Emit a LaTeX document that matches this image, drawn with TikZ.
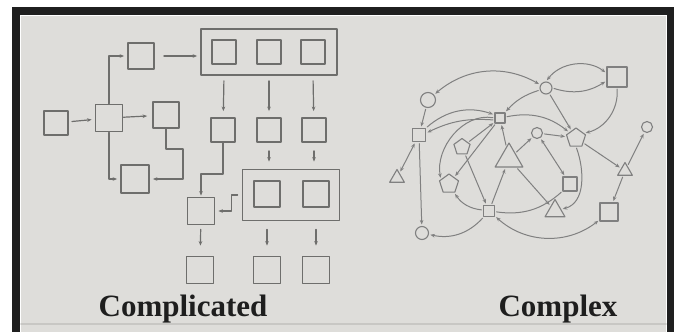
\documentclass[tikz,border=0pt]{standalone}
\usepackage{fontspec}
\setmainfont{Liberation Serif}
\usetikzlibrary{shapes.geometric, arrows.meta}
\definecolor{paper}{HTML}{DEDDDA}
\definecolor{ink}{HTML}{6E6E6C}
\definecolor{inkc}{HTML}{808080}
\definecolor{type}{HTML}{1E1E1E}
\begin{document}
\begin{tikzpicture}[x=1pt, y=-1pt, >={Stealth[length=4.5pt, width=3.6pt]}, line join=round, line cap=round,
  box/.style={draw=ink, line width=1.8pt, inner sep=0pt, minimum size=#1}, box/.default=25pt,
  frame/.style={draw=ink, line width=1.8pt, inner sep=0pt},
  wire/.style={draw=ink, line width=1.2pt, ->, shorten <=3pt, shorten >=3pt},
  cx/.style={draw=inkc, line width=1.1pt, inner sep=0pt},
  ring/.style={cx, circle, minimum size=#1},
  sqr/.style={cx, minimum size=#1},
  pent/.style={cx, regular polygon, regular polygon sides=5, minimum size=#1},
  tri/.style={cx, regular polygon, regular polygon sides=3, minimum size=#1},
  edge/.style={draw=inkc, line width=1pt, ->, shorten <=1.5pt, shorten >=1.5pt},
  lbl/.style={text=type, font=\bfseries\fontsize{31}{31}\selectfont, inner sep=0pt, anchor=base}]
\useasboundingbox (0,0) rectangle (677,332);
\fill[white] (0,0) rectangle (677,332);
\fill[black!88] (12,7) rectangle (674,332);
\fill[white] (20,15) rectangle (667,332);
\fill[paper] (21,16) rectangle (666,332);
\draw[paper!90!black, line width=1.5pt] (21,324) -- (666,324);
\node (a) at (56,123)[box=24pt] {};
\node (b) at (109,118)[box=27pt] {};
\node (c) at (166,115)[box=26pt] {};
\node (d) at (135,179)[box=28pt] {};
\node (e) at (141,56)[box=26pt] {};
\node (big1) at (269,52)[frame, minimum width=136pt, minimum height=46pt] {};
\node (i1) at (224,52)[box=24pt] {}; \node (i2) at (269,52)[box=24pt] {}; \node (i3) at (313,52)[box=24pt] {};
\node (r1) at (223,130)[box=24pt] {}; \node (r2) at (269,130)[box=24pt] {}; \node (r3) at (314,130)[box=24pt] {};
\node (big2) at (291,195)[frame, minimum width=97pt, minimum height=51pt] {};
\node (j1) at (267,194)[box=26pt] {}; \node (j2) at (316,194)[box=26pt] {};
\node (f) at (201,211)[box=27pt] {};
\node (g1) at (200,270)[box=27pt] {}; \node (g2) at (267,270)[box=27pt] {}; \node (g3) at (316,270)[box=27pt] {};
\draw[wire] (a) -- (b);
\draw[wire, shorten <=0pt, shorten >=5pt] (b) -- (c);
\draw[wire, shorten <=0pt] (b.north) |- (e.west);
\draw[wire, shorten <=0pt] (b.south) |- (d.west);
\draw[wire, shorten <=9pt] (e.east) -- (e.east -| big1.west);
\draw[wire, shorten <=0pt] (c.south) |- ++(17,20) |- (d.east);
\foreach \i in {1,2,3} \draw[wire, shorten <=5pt, shorten >=6pt] (i\i |- big1.south) -- (r\i);
\foreach \i in {2,3} \draw[wire, shorten <=8pt, shorten >=7pt] (r\i) -- (r\i |- big2.north);
\draw[wire, shorten <=0pt, shorten >=1pt] (r1.south) |- ++(-22,31) -| (f.north);
\draw[wire, shorten <=0pt] ([xshift=-4pt]big2.west) -- ++(-6,0) |- (f.east);
\draw[wire, shorten <=4pt, shorten >=10pt] (f) -- (g1);
\draw[wire, shorten <=8pt, shorten >=10pt] (j1 |- big2.south) -- (g2);
\draw[wire, shorten <=8pt, shorten >=10pt] (j2 |- big2.south) -- (g3);
\node (sqA) at (617,77)[sqr=20pt] {};
\node (oA) at (546,88)[ring=12pt] {};
\node (oB) at (428,100)[ring=15pt] {};
\node (sB) at (419,135)[sqr=13pt] {};
\node (sC) at (500,118)[sqr=10pt] {};
\node (oC) at (537,133)[ring=11pt] {};
\node (pA) at (576,138)[pent=20pt] {};
\node (oD) at (647,127)[ring=11pt] {};
\node (pB) at (462,147)[pent=17pt] {};
\node (tA) at (509,159)[tri=32pt] {};
\node (tB) at (397,178)[tri=17pt] {};
\node (pC) at (449,184)[pent=20pt] {};
\node (tC) at (625,171)[tri=17pt] {};
\node (sD) at (570,184)[sqr=14pt] {};
\node (sE) at (489,211)[sqr=11pt] {};
\node (tD) at (555,211)[tri=23pt] {};
\node (sF) at (609,212)[sqr=18pt] {};
\node (oE) at (422,233)[ring=13pt] {};
\draw[edge, <->] (oB) to[bend left=35] (oA);
\draw[edge, <->] (oA.north) to[bend left=45] (sqA.160);
\draw[edge] (oA.east) to[bend right=25] (sqA.200);
\draw[edge] (oA) to[bend right=15] (sC);
\draw[edge] (oA) -- (pA);
\draw[edge] (sqA.south) to[bend left=40] (pA.30);
\draw[edge] (oB) -- (sB);
\draw[edge, <->] (sB) -- (tB);
\draw[edge] (sB) -- (oE);
\draw[edge] (sE) to[bend left=30] (oE);
\draw[edge] (sB.45) to[bend left=30] (sC.150);
\draw[edge] (sC.200) to[bend right=15] (sB.15);
\draw[edge] (sC.west) to[out=170, in=100] (pC.150);
\draw[edge] (pB) -- (sC);
\draw[edge] (sC) -- (pC);
\draw[edge] (tA) -- (sC);
\draw[edge] (sC) to[bend left=25] (pA);
\draw[edge] (oC) -- (pA);
\draw[edge] (tA) -- (oC);
\draw[edge, <->] (oC) -- (sD);
\draw[edge] (pB) -- (sE);
\draw[edge] (sE) -- (tA);
\draw[edge] (tA) -- (tD);
\draw[edge] (sE) to[bend left=25] (pC);
\draw[edge, -] (sE) to[bend right=25] (sD);
\draw[edge, <->] (sE) to[bend right=40] (sF);
\draw[edge] (pA.south) to[out=-70, in=15] (tD.15);
\draw[edge] (pA) -- (tC);
\draw[edge] (tC) -- (oD);
\draw[edge] (tC) -- (sF);
\node (t1) at (183,316)[lbl] {Complicated};
\node (t2) at (558,316)[lbl] {Complex};
\end{tikzpicture}
\end{document}
